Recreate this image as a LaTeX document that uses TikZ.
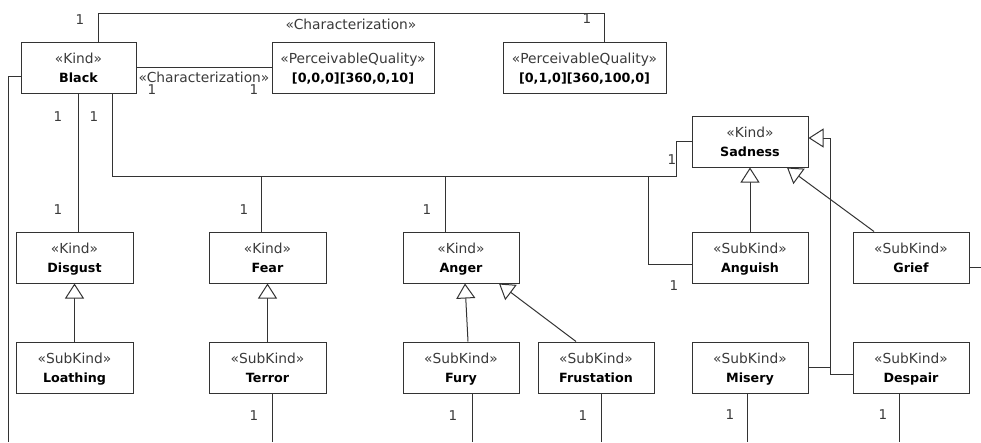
\documentclass[tikz,border=0pt]{standalone}
\usepackage{fontspec}
\setmainfont{DejaVu Sans}
\usetikzlibrary{arrows.meta}
\definecolor{ln}{HTML}{333333}
\definecolor{st}{HTML}{3A3A3A}
\newcommand\stereo[1]{{\fontsize{13.8}{19}\selectfont\mdseries\color{st}«#1»}}
\tikzset{
  cls/.style={draw=ln, line width=1pt, rectangle, inner sep=0pt, align=center,
    text depth=0pt, minimum height=51pt, font=\fontsize{12.7}{19}\selectfont\bfseries},
  conn/.style={draw=ln, line width=1pt},
  gen/.style={conn, -{Triangle[open, length=15pt, width=19pt, fill=white]}},
  mult/.style={font=\fontsize{13.5}{16}\selectfont, inner sep=0pt, text depth=0pt, text=st},
  stlab/.style={font=\fontsize{13.8}{16}\selectfont, text=st, inner sep=0pt, anchor=base},
}
\begin{document}
\begin{tikzpicture}[x=1pt,y=-1pt]
\useasboundingbox (0,0) rectangle (981,442);
% classes
\node[cls, minimum width=115pt] (black) at (78.5,67.5) {\stereo{Kind}\\Black};
\node[cls, minimum width=162pt] (pq1) at (353,67.5) {\stereo{PerceivableQuality}\\{}[0,0,0][360,0,10]};
\node[cls, minimum width=163pt] (pq2) at (584.5,67.5) {\stereo{PerceivableQuality}\\{}[0,1,0][360,100,0]};
\node[cls, minimum width=116pt] (sadness) at (750,141.5) {\stereo{Kind}\\Sadness};
\node[cls, minimum width=117pt] (disgust) at (74.5,257.5) {\stereo{Kind}\\Disgust};
\node[cls, minimum width=117pt] (fear) at (267.5,257.5) {\stereo{Kind}\\Fear};
\node[cls, minimum width=116pt] (anger) at (461,257.5) {\stereo{Kind}\\Anger};
\node[cls, minimum width=116pt] (anguish) at (750,257.5) {\stereo{SubKind}\\Anguish};
\node[cls, minimum width=116pt] (grief) at (911,257.5) {\stereo{SubKind}\\Grief};
\node[cls, minimum width=117pt] (loathing) at (74.5,367.5) {\stereo{SubKind}\\Loathing};
\node[cls, minimum width=117pt] (terror) at (267.5,367.5) {\stereo{SubKind}\\Terror};
\node[cls, minimum width=116pt] (fury) at (461,367.5) {\stereo{SubKind}\\Fury};
\node[cls, minimum width=116pt] (frust) at (596,367.5) {\stereo{SubKind}\\Frustation};
\node[cls, minimum width=116pt] (misery) at (750,367.5) {\stereo{SubKind}\\Misery};
\node[cls, minimum width=116pt] (despair) at (911,367.5) {\stereo{SubKind}\\Despair};
% helper coordinates
\coordinate (topc) at (350,13.5);
\coordinate (bend) at (676,176.5);
\coordinate (jn) at (648,176.5);
\coordinate (leftend) at (8,442);
\coordinate (griefend) at (981,267.5);
\coordinate (mdx) at (830,367.5);
\coordinate (tb) at (272,442);
\coordinate (fb) at (472.7,442);
\coordinate (frb) at (601,442);
\coordinate (mb) at (747.7,442);
\coordinate (db) at (899,442);
% associations
\draw[conn] ([xshift=19.5pt]black.north) |- (topc) -| ([xshift=20pt]pq2.north);
\draw[conn] (black.east) -- (pq1.west);
\draw[conn] ([yshift=-8.5pt]black.west) -| (leftend);
\draw[conn] ([xshift=-0.5pt]black.south) -- ([xshift=-0.5pt]black.south |- disgust.north);
\draw[conn] ([xshift=33.5pt]black.south) |- (bend) |- (sadness.west);
\draw[conn] ([xshift=-6.5pt]fear.north) -- ([xshift=-6.5pt]fear.north |- bend);
\draw[conn] ([xshift=-16pt]anger.north) -- ([xshift=-16pt]anger.north |- bend);
\draw[conn] (jn) |- ([yshift=-6.5pt]anguish.west);
\draw[conn] ([yshift=-10pt]grief.east) -- (griefend);
\draw[conn] (terror.south -| tb) -- (tb);
\draw[conn] (fury.south -| fb) -- (fb);
\draw[conn] (frust.south -| frb) -- (frb);
\draw[conn] (misery.south -| mb) -- (mb);
\draw[conn] (despair.south -| db) -- (db);
% generalizations
\draw[gen] (loathing) -- (disgust);
\draw[gen] (terror) -- (fear);
\draw[gen] ([xshift=7pt]fury.north) -- ([xshift=4pt]anger.south);
\draw[gen] ([xshift=-20pt]frust.north) -- ([xshift=38pt]anger.south);
\draw[gen] (anguish) -- (sadness);
\draw[gen] ([xshift=-37pt]grief.north) -- ([xshift=37pt]sadness.south);
\draw[conn] (misery.east) -- (mdx);
\draw[gen] ([yshift=-6.5pt]despair.west) -| (mdx) |- ([yshift=3.5pt]sadness.east);
% labels
\node[stlab] (lc1) at (351,29.5) {«Characterization»};
\node[stlab] (lc2) at (204,82) {«Characterization»};
\node[mult] (m1) at (80,20) {1};
\node[mult] (m2) at (587,19) {1};
\node[mult] (m3) at (152,90) {1};
\node[mult] (m4) at (254,90) {1};
\node[mult] (m5) at (58,117) {1};
\node[mult] (m6) at (94,117) {1};
\node[mult] (m7) at (58,210) {1};
\node[mult] (m8) at (244,210) {1};
\node[mult] (m9) at (427,210) {1};
\node[mult] (m10) at (672,160) {1};
\node[mult] (m11) at (674,286) {1};
\node[mult] (m12) at (254,416) {1};
\node[mult] (m13) at (453,416) {1};
\node[mult] (m14) at (583,416) {1};
\node[mult] (m15) at (730,415) {1};
\node[mult] (m16) at (883,415) {1};
\end{tikzpicture}
\end{document}
